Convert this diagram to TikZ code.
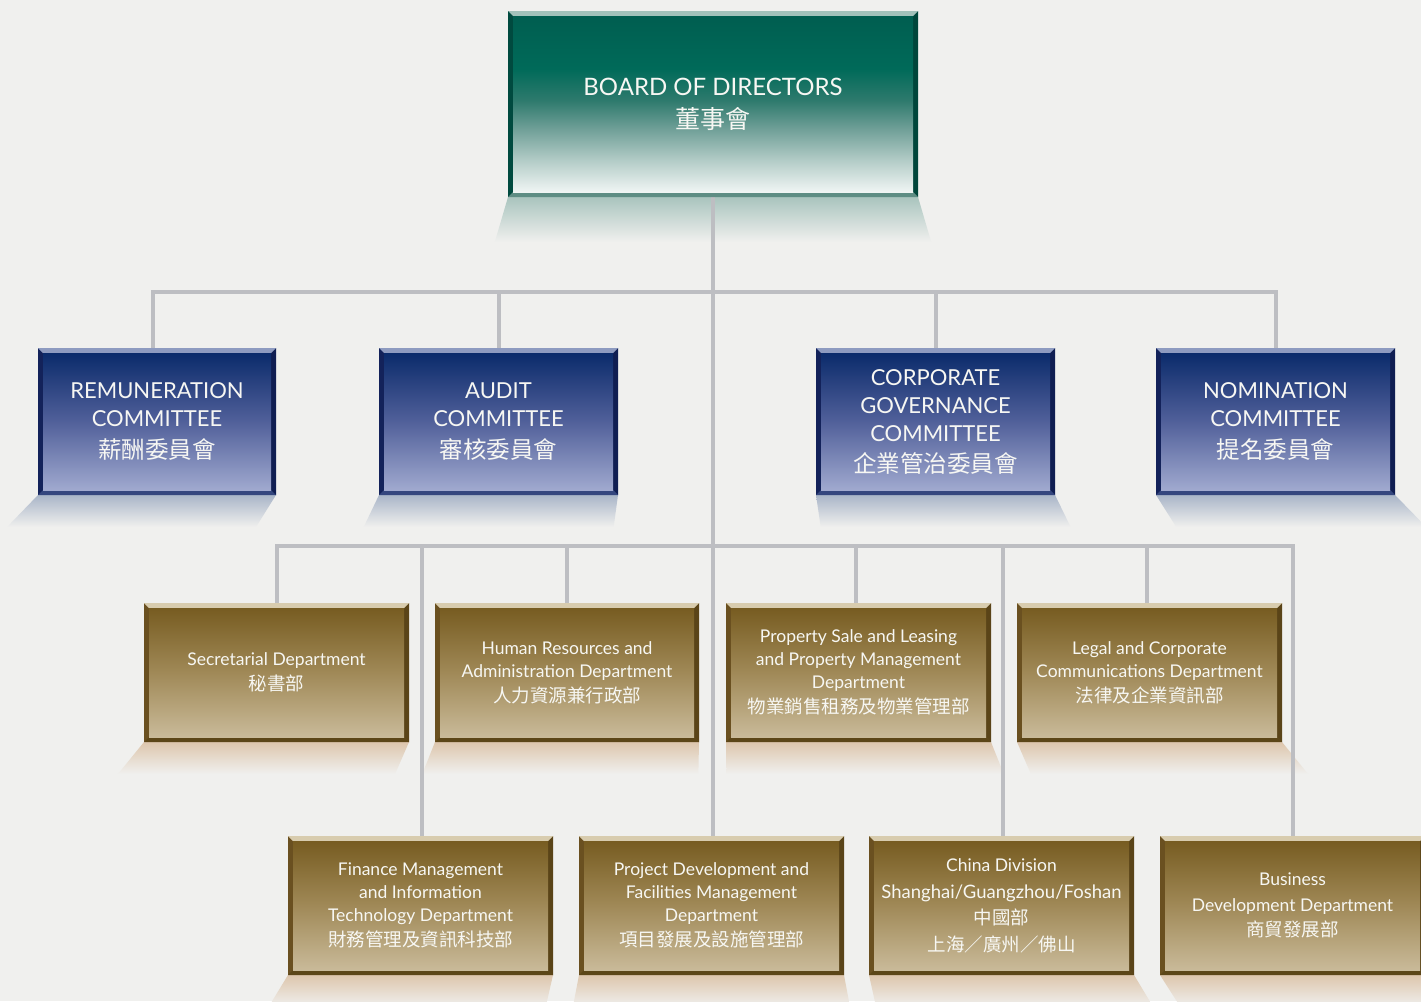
\documentclass[tikz,border=0pt]{standalone}
\usepackage{fontspec}
\setmainfont{Lato}
\newfontfamily\cjk{Noto Sans CJK TC}
\usetikzlibrary{calc}
\definecolor{bg}{HTML}{F0F0EE}
\definecolor{linegray}{HTML}{BDBEC2}
\definecolor{txt}{HTML}{F7F7F3}
% board palette
\definecolor{bL}{HTML}{004A3F}\definecolor{bR}{HTML}{00463B}
\definecolor{bT}{HTML}{A2C1BA}\definecolor{bB}{HTML}{5E8D84}
\definecolor{bS}{HTML}{A9C4BE}
\definecolor{b0}{HTML}{F0F5F4}\definecolor{b1}{HTML}{B3CCC7}\definecolor{b2}{HTML}{6F9F97}
\definecolor{b3}{HTML}{2E7A6D}\definecolor{b4}{HTML}{006A59}\definecolor{b5}{HTML}{005E50}
% committee palette
\definecolor{cL}{HTML}{13225A}\definecolor{cR}{HTML}{101E52}
\definecolor{cT}{HTML}{8E9BC0}\definecolor{cB}{HTML}{34467E}
\definecolor{cS}{HTML}{A9B5C8}
\definecolor{c0}{HTML}{A0A9CF}\definecolor{c1}{HTML}{51609A}\definecolor{c2}{HTML}{0B2B6B}
% department palette
\definecolor{dL}{HTML}{6A5020}\definecolor{dR}{HTML}{5A4418}
\definecolor{dT}{HTML}{D8CCAE}\definecolor{dB}{HTML}{5C4618}
\definecolor{dS}{HTML}{DDC6AD}
\definecolor{d0}{HTML}{C9BA99}\definecolor{d1}{HTML}{A08957}\definecolor{d2}{HTML}{775C21}
\pgfdeclareverticalshading{bsh}{100bp}{color(0bp)=(b0); color(25bp)=(b0); color(34bp)=(b1); color(43bp)=(b2); color(51bp)=(b3); color(60bp)=(b4); color(75bp)=(b5); color(100bp)=(b5)}
\pgfdeclareverticalshading{csh}{100bp}{color(0bp)=(c0); color(25bp)=(c0); color(50bp)=(c1); color(75bp)=(c2); color(100bp)=(c2)}
\pgfdeclareverticalshading{dsh}{100bp}{color(0bp)=(d0); color(25bp)=(d0); color(50bp)=(d1); color(75bp)=(d2); color(100bp)=(d2)}
\pgfdeclarelayer{bgl}\pgfdeclarelayer{shadowl}\pgfdeclarelayer{linel}
\pgfsetlayers{bgl,shadowl,linel,main}
% #1 name, #2 x1, #3 y1, #4 x2, #5 y2, #6 palette, #7 text, #8 shadow depth
\newcommand\obox[8]{%
  \begin{pgfonlayer}{shadowl}
    \shade[top color=#6S, bottom color=bg] (#2,#5) -- (#4,#5)
      -- ({#4+(#4-713)/700*#8},{#5+#8}) -- ({#2+(#2-713)/700*#8},{#5+#8}) -- cycle;
  \end{pgfonlayer}
  \fill[#6L] (#2,#3) rectangle (#4,#5);
  \fill[#6R] (#4,#3) -- (#4,#5) -- (#4-5,#5-5) -- (#4-5,#3+5) -- cycle;
  \fill[#6T] (#2,#3) -- (#4,#3) -- (#4-5,#3+5) -- (#2+5,#3+5) -- cycle;
  \fill[#6B] (#2,#5) -- (#4,#5) -- (#4-5,#5-5) -- (#2+5,#5-5) -- cycle;
  \shade[shading=#6sh] (#2+5,#3+5) rectangle (#4-5,#5-5);
  \node[boxtext, minimum width={(#4-#2)*1pt}, minimum height={(#5-#3)*1pt}]
    (#1) at ({(#2+#4)/2},{(#3+#5)/2}) {#7};
}
\newcommand\cjkb{\cjk\fontsize{25}{25}\selectfont}
\newcommand\cjkc{\cjk\fontsize{23.5}{23.5}\selectfont}
\newcommand\cjkd{\cjk\fontsize{18.5}{18.5}\selectfont}
\begin{document}
\begin{tikzpicture}[x=1pt,y=-1pt,
  conn/.style={draw=linegray,line width=4pt},
  boxtext/.style={text=txt,align=center,inner sep=0pt},
  ft/.style={font=\fontsize{24}{33}\selectfont},
  fc/.style={font=\fontsize{22}{28}\selectfont},
  fd/.style={font=\fontsize{17.5}{23}\selectfont}]
\begin{pgfonlayer}{bgl}
\fill[bg] (0,0) rectangle (1421,1001);
\end{pgfonlayer}
\useasboundingbox (0,0) rectangle (1421,1001);
% board
\tikzset{boxtext/.append style={ft}}
\obox{board}{508}{11}{918}{197}{b}{BOARD OF DIRECTORS\\{\cjkb 董事會}}{45}
% committees
\tikzset{boxtext/.style={text=txt,align=center,inner sep=0pt,fc}}
\obox{rem}{38}{348}{276}{495}{c}{REMUNERATION\\COMMITTEE\\[4pt]{\cjkc 薪酬委員會}}{32}
\obox{aud}{379}{348}{618}{495}{c}{AUDIT\\COMMITTEE\\[4pt]{\cjkc 審核委員會}}{32}
\obox{cg}{816}{348}{1055}{495}{c}{CORPORATE\\GOVERNANCE\\COMMITTEE\\[3pt]{\cjkc 企業管治委員會}}{32}
\obox{nom}{1156}{348}{1395}{495}{c}{NOMINATION\\COMMITTEE\\[4pt]{\cjkc 提名委員會}}{32}
% departments
\tikzset{boxtext/.style={text=txt,align=center,inner sep=0pt,fd}}
\obox{sec}{144}{603}{409}{742}{d}{Secretarial Department\\[2pt]{\cjkd 秘書部}}{32}
\obox{hr}{435}{603}{699}{742}{d}{Human Resources and\\Administration Department\\[2pt]{\cjkd 人力資源兼行政部}}{32}
\obox{prop}{726}{603}{991}{742}{d}{Property Sale and Leasing\\and Property Management\\Department\\[2pt]{\cjkd 物業銷售租務及物業管理部}}{32}
\obox{legal}{1017}{603}{1282}{742}{d}{Legal and Corporate\\Communications Department\\[2pt]{\cjkd 法律及企業資訊部}}{32}
\obox{fin}{288}{836}{553}{975}{d}{Finance Management\\and Information\\Technology Department\\[2pt]{\cjkd 財務管理及資訊科技部}}{32}
\obox{proj}{579}{836}{844}{975}{d}{Project Development and\\Facilities Management\\Department\\[2pt]{\cjkd 項目發展及設施管理部}}{32}
\obox{china}{869}{836}{1134}{975}{d}{China Division\\[4pt]{\fontsize{18.5}{23}\selectfont Shanghai/Guangzhou/Foshan}\\[3pt]{\cjkd 中國部}\\[4pt]{\cjkd 上海／廣州／佛山}}{32}
\obox{busdev}{1160}{836}{1425}{975}{d}{Business\\[3pt]Development Department\\[2pt]{\cjkd 商貿發展部}}{32}
% connectors
\begin{pgfonlayer}{linel}
\coordinate (bus1) at (713,292);
\coordinate (bus2) at (713,546);
\draw[conn] (board.south) -- (board.south |- proj.north);
\draw[conn] ([xshift=-4pt]rem.north) -- ([xshift=-4pt]rem.north |- bus1) -- (nom.north |- bus1) -- (nom.north);
\draw[conn] (aud.north) -- (aud.north |- bus1);
\draw[conn] (cg.north) -- (cg.north |- bus1);
\draw[conn] (sec.north) -- (sec.north |- bus2) -- (busdev.north |- bus2) -- (busdev.north);
\draw[conn] (hr.north) -- (hr.north |- bus2);
\draw[conn] ([xshift=-3pt]prop.north) -- ([xshift=-3pt]prop.north |- bus2);
\draw[conn] ([xshift=-3pt]legal.north) -- ([xshift=-3pt]legal.north |- bus2);
\draw[conn] ([xshift=1pt]fin.north) -- ([xshift=1pt]fin.north |- bus2);
\draw[conn] ([xshift=1pt]china.north) -- ([xshift=1pt]china.north |- bus2);
\end{pgfonlayer}
\end{tikzpicture}
\end{document}
